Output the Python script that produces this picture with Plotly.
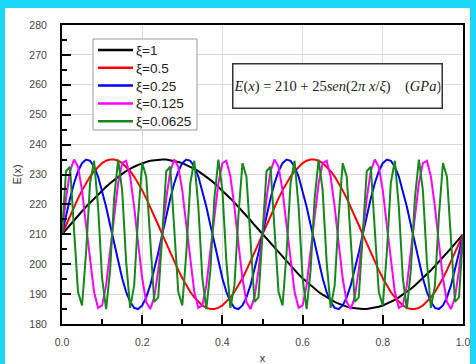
import numpy as np
import plotly.graph_objects as go

# sample positions (0.00 .. 1.00, step 0.01)
x = np.round(np.linspace(0.0, 1.0, 101), 2)

names = ["ξ=1", "ξ=0.5", "ξ=0.25", "ξ=0.125", "ξ=0.0625"]
colors = ["#000000", "#ff0000", "#0000ff", "#ff00ff", "#14891a"]

e_xi_1 = [
    210.0, 211.6, 213.1, 214.7, 216.2, 217.7, 219.2, 220.6, 222.0, 223.4, 224.7, 225.9, 227.1,
    228.2, 229.3, 230.2, 231.1, 231.9, 232.6, 233.2, 233.8, 234.2, 234.6, 234.8, 235.0, 235.0,
    235.0, 234.8, 234.6, 234.2, 233.8, 233.2, 232.6, 231.9, 231.1, 230.2, 229.3, 228.2, 227.1,
    225.9, 224.7, 223.4, 222.0, 220.6, 219.2, 217.7, 216.2, 214.7, 213.1, 211.6, 210.0,
    208.4, 206.9, 205.3, 203.8, 202.3, 200.8, 199.4, 198.0, 196.6, 195.3, 194.1, 192.9,
    191.8, 190.7, 189.8, 188.9, 188.1, 187.4, 186.8, 186.2, 185.8, 185.4, 185.2, 185.0, 185.0,
    185.0, 185.2, 185.4, 185.8, 186.2, 186.8, 187.4, 188.1, 188.9, 189.8, 190.7, 191.8, 192.9,
    194.1, 195.3, 196.6, 198.0, 199.4, 200.8, 202.3, 203.8, 205.3, 206.9, 208.4, 210.0,
]

e_xi_05 = [
    210.0, 213.1, 216.2, 219.2, 222.0, 224.7, 227.1, 229.3, 231.1, 232.6, 233.8, 234.6, 235.0,
    235.0, 234.6, 233.8, 232.6, 231.1, 229.3, 227.1, 224.7, 222.0, 219.2, 216.2, 213.1,
    210.0, 206.9, 203.8, 200.8, 198.0, 195.3, 192.9, 190.7, 188.9, 187.4, 186.2, 185.4, 185.0,
    185.0, 185.4, 186.2, 187.4, 188.9, 190.7, 192.9, 195.3, 198.0, 200.8, 203.8, 206.9,
    210.0, 213.1, 216.2, 219.2, 222.0, 224.7, 227.1, 229.3, 231.1, 232.6, 233.8, 234.6, 235.0,
    235.0, 234.6, 233.8, 232.6, 231.1, 229.3, 227.1, 224.7, 222.0, 219.2, 216.2, 213.1,
    210.0, 206.9, 203.8, 200.8, 198.0, 195.3, 192.9, 190.7, 188.9, 187.4, 186.2, 185.4, 185.0,
    185.0, 185.4, 186.2, 187.4, 188.9, 190.7, 192.9, 195.3, 198.0, 200.8, 203.8, 206.9,
    210.0,
]

e_xi_025 = [
    210.0, 216.2, 222.0, 227.1, 231.1, 233.8, 235.0, 234.6, 232.6, 229.3, 224.7, 219.2, 213.1,
    206.9, 200.8, 195.3, 190.7, 187.4, 185.4, 185.0, 186.2, 188.9, 192.9, 198.0, 203.8,
    210.0, 216.2, 222.0, 227.1, 231.1, 233.8, 235.0, 234.6, 232.6, 229.3, 224.7, 219.2, 213.1,
    206.9, 200.8, 195.3, 190.7, 187.4, 185.4, 185.0, 186.2, 188.9, 192.9, 198.0, 203.8,
    210.0, 216.2, 222.0, 227.1, 231.1, 233.8, 235.0, 234.6, 232.6, 229.3, 224.7, 219.2, 213.1,
    206.9, 200.8, 195.3, 190.7, 187.4, 185.4, 185.0, 186.2, 188.9, 192.9, 198.0, 203.8,
    210.0, 216.2, 222.0, 227.1, 231.1, 233.8, 235.0, 234.6, 232.6, 229.3, 224.7, 219.2, 213.1,
    206.9, 200.8, 195.3, 190.7, 187.4, 185.4, 185.0, 186.2, 188.9, 192.9, 198.0, 203.8,
    210.0,
]

e_xi_0125 = [
    210.0, 222.0, 231.1, 235.0, 232.6, 224.7, 213.1, 200.8, 190.7, 185.4, 186.2, 192.9, 203.8,
    216.2, 227.1, 233.8, 234.6, 229.3, 219.2, 206.9, 195.3, 187.4, 185.0, 188.9, 198.0,
    210.0, 222.0, 231.1, 235.0, 232.6, 224.7, 213.1, 200.8, 190.7, 185.4, 186.2, 192.9, 203.8,
    216.2, 227.1, 233.8, 234.6, 229.3, 219.2, 206.9, 195.3, 187.4, 185.0, 188.9, 198.0,
    210.0, 222.0, 231.1, 235.0, 232.6, 224.7, 213.1, 200.8, 190.7, 185.4, 186.2, 192.9, 203.8,
    216.2, 227.1, 233.8, 234.6, 229.3, 219.2, 206.9, 195.3, 187.4, 185.0, 188.9, 198.0,
    210.0, 222.0, 231.1, 235.0, 232.6, 224.7, 213.1, 200.8, 190.7, 185.4, 186.2, 192.9, 203.8,
    216.2, 227.1, 233.8, 234.6, 229.3, 219.2, 206.9, 195.3, 187.4, 185.0, 188.9, 198.0,
    210.0,
]

e_xi_00625 = [
    210.0, 231.1, 232.6, 213.1, 190.7, 186.2, 203.8, 227.1, 234.6, 219.2, 195.3, 185.0, 198.0,
    222.0, 235.0, 224.7, 200.8, 185.4, 192.9, 216.2, 233.8, 229.3, 206.9, 187.4, 188.9,
    210.0, 231.1, 232.6, 213.1, 190.7, 186.2, 203.8, 227.1, 234.6, 219.2, 195.3, 185.0, 198.0,
    222.0, 235.0, 224.7, 200.8, 185.4, 192.9, 216.2, 233.8, 229.3, 206.9, 187.4, 188.9,
    210.0, 231.1, 232.6, 213.1, 190.7, 186.2, 203.8, 227.1, 234.6, 219.2, 195.3, 185.0, 198.0,
    222.0, 235.0, 224.7, 200.8, 185.4, 192.9, 216.2, 233.8, 229.3, 206.9, 187.4, 188.9,
    210.0, 231.1, 232.6, 213.1, 190.7, 186.2, 203.8, 227.1, 234.6, 219.2, 195.3, 185.0, 198.0,
    222.0, 235.0, 224.7, 200.8, 185.4, 192.9, 216.2, 233.8, 229.3, 206.9, 187.4, 188.9,
    210.0,
]

series = [e_xi_1, e_xi_05, e_xi_025, e_xi_0125, e_xi_00625]

x_ticks = [0.0, 0.2, 0.4, 0.6, 0.8, 1.0]
x_tick_labels = ["0.0", "0.2", "0.4", "0.6", "0.8", "1.0"]
y_ticks = [180, 190, 200, 210, 220, 230, 240, 250, 260, 270, 280]

formula = ("<i>E</i>(<i>x</i>) = 210 + 25<i>sen</i>(2<i>π</i> <i>x</i>/<i>ξ</i>)"
           "    (<i>GPa</i>)")

W, H = 476, 364
ml, mr, mt, mb = 62, 13, 25, 40
pw, ph = W - ml - mr, H - mt - mb
CYAN = "#1cd6f6"


def px(xp):
    return (xp - ml) / pw


def py(yp):
    return (H - mb - yp) / ph


fig = go.Figure()
for name, col, ys in zip(names, colors, series):
    fig.add_trace(go.Scatter(x=x, y=ys, mode="lines", name=name,
                             line=dict(color=col, width=2), showlegend=False))

shapes = [dict(type="rect", xref="paper", yref="paper",
               x0=px(5), x1=px(470), y0=py(364), y1=py(8),
               fillcolor="white", line=dict(width=0), layer="below")]
annotations = [dict(
    text=formula, xref="paper", yref="paper",
    x=px(337), y=py(85.5), xanchor="center", yanchor="middle",
    showarrow=False, bgcolor="white", bordercolor="#333333", borderwidth=1.5,
    width=206, height=41,
    font=dict(family="Liberation Serif, Times New Roman, serif", size=14.5, color="#222222"),
)]

# legend box drawn by hand (to match the compact row spacing of the original)
shapes.append(dict(type="rect", xref="paper", yref="paper",
                   x0=px(93), x1=px(197), y0=py(130), y1=py(39),
                   fillcolor="white", line=dict(color="#9a9a9a", width=1), layer="above"))
for i, (name, col) in enumerate(zip(names, colors)):
    yc = 50 + 17.8 * i
    shapes.append(dict(type="line", xref="paper", yref="paper",
                       x0=px(98), x1=px(133), y0=py(yc), y1=py(yc),
                       line=dict(color=col, width=2.5), layer="above"))
    annotations.append(dict(text=name, xref="paper", yref="paper",
                            x=px(134), y=py(yc + 0.5), xanchor="left", yanchor="middle",
                            showarrow=False,
                            font=dict(family="Liberation Sans, Arial, sans-serif",
                                      size=13.5, color="#222222")))

fig.update_layout(
    width=W, height=H,
    margin=dict(l=ml, r=mr, t=mt, b=mb, pad=0, autoexpand=False),
    paper_bgcolor=CYAN,
    plot_bgcolor="white",
    font=dict(family="Liberation Sans, Arial, sans-serif", size=10, color="#444444"),
    showlegend=False,
    shapes=shapes,
    annotations=annotations,
)

fig.update_xaxes(
    range=[0, 1], tickvals=x_ticks, ticktext=x_tick_labels, automargin=False,
    showgrid=True, gridcolor="#d9d9d9", gridwidth=1,
    showline=True, linecolor="black", linewidth=2, mirror=True,
    ticks="inside", ticklen=9, tickwidth=2, tickcolor="black",
    ticklabelstandoff=7, tickfont=dict(size=10.5),
    minor=dict(dtick=0.1, ticks="inside", ticklen=5, tickwidth=2, tickcolor="black", showgrid=False),
    zeroline=False,
    title=dict(text="x", standoff=8, font=dict(size=11, color="#333333")),
)
fig.update_yaxes(
    range=[180, 280], tickvals=y_ticks, automargin=False,
    showgrid=True, gridcolor="#d9d9d9", gridwidth=1,
    showline=True, linecolor="black", linewidth=2, mirror=True,
    ticks="inside", ticklen=9, tickwidth=2, tickcolor="black",
    ticklabelstandoff=11, tickfont=dict(size=10.5),
    minor=dict(dtick=5, ticks="inside", ticklen=5, tickwidth=2, tickcolor="black", showgrid=False),
    zeroline=False,
    title=dict(text="E(x)", standoff=6, font=dict(size=11, color="#333333")),
)

fig.write_html(
    "out.html",
    config={"displayModeBar": False},
    post_script=("document.body.style.margin='0';"
                 "document.body.style.padding='0';"
                 "document.body.style.overflow='hidden';"
                 "document.body.style.background='" + CYAN + "';"),
)
